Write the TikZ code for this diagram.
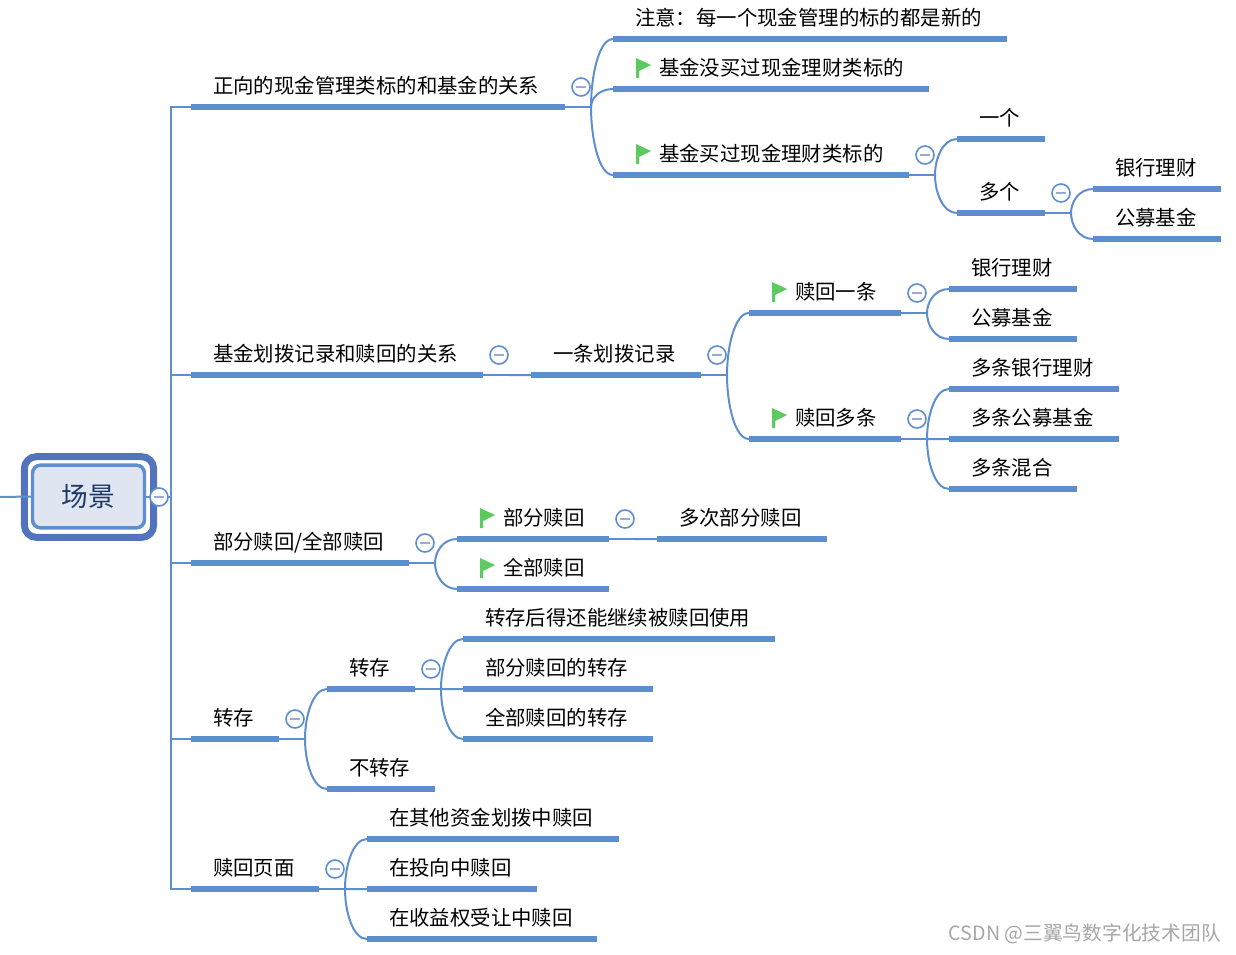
\documentclass[tikz,border=0pt]{standalone}
\usepackage{fontspec}
\setmainfont{Noto Sans CJK SC}
\usetikzlibrary{calc}

\definecolor{linkblue}{HTML}{5F8ECF}
\definecolor{frameblue}{HTML}{5374BC}
\definecolor{rootfill}{HTML}{DFE6F2}
\definecolor{roottext}{HTML}{1F3864}
\definecolor{flaggreen}{HTML}{5BCB5F}

\tikzset{
  link/.style={draw=linkblue,line width=1.5pt},
  underl/.style={draw=linkblue,line width=4.5pt},
  topic/.style={anchor=south west,inner ysep=0pt,inner xsep=16.5pt,outer sep=0pt,
    minimum height=31.5pt,minimum width={#1*0.75pt},text width={(#1-44)*0.75pt},align=left,
    text=black,font=\fontsize{15.3}{18}\selectfont,text height=13pt,text depth=1.6pt,
    append after command={(\tikzlastnode.south west) edge[underl] (\tikzlastnode.south east)}},
  flagged/.style={execute at begin node={\leavevmode\hspace*{18pt}}},
  minus/.style={circle,draw=linkblue,line width=1.2pt,fill=white,minimum size=13.5pt,inner sep=0pt,
    path picture={\draw[draw=frameblue!60,line width=1pt] ([xshift=-3.5pt]path picture bounding box.center) -- ([xshift=3.5pt]path picture bounding box.center);}},
  flagmark/.pic={\fill[flaggreen] (23,-31) -- (38,-24) -- (26,-18) -- (26,-11) -- (23,-11) -- cycle;}
}

% Fork after a parent, then one curve per kid
\newcommand{\branch}[2]{
  \coordinate (#1fork) at ([xshift=19.5pt]#1.south east);
  \draw[link] (#1.south east) -- (#1fork);
  \foreach \kid in {#2}
    \draw[link] (#1fork) .. controls ($(#1fork)!0.45!(#1fork |- \kid.south west)$) and ($(#1fork |- \kid.south west)!0.35!(\kid.south west)$) .. (\kid.south west);
}

\begin{document}
\begin{tikzpicture}[x=0.75pt,y=-0.75pt]
  % Boundary
  \path[use as bounding box] (0,0) rectangle (1236,954);
  % Root
  \node[draw=linkblue,line width=2.6pt,fill=rootfill,rounded corners=6pt,minimum width=84pt,minimum height=47pt,inner sep=0pt,text=roottext,font=\fontsize{20}{24}\selectfont] (root) at (88.5,496.5) {场景};
  \node[draw=frameblue,line width=5.2pt,rounded corners=9pt,minimum width=97pt,minimum height=60.5pt,inner sep=0pt] (rootframe) at (89,497) {};
  \coordinate (rootin) at (0,497);
  % First level
  \node[topic=374] (zheng) at (191,107) {正向的现金管理类标的和基金的关系};
  \node[topic=292] (huabo) at (191,375) {基金划拨记录和赎回的关系};
  \node[topic=218] (bufen) at (191,563) {部分赎回/全部赎回};
  \node[topic=88] (zhuancun) at (191,739) {转存};
  \node[topic=128] (yemian) at (191,889) {赎回页面};
  % Cash management
  \node[topic=394] (zhuyi) at (613,39) {注意：每一个现金管理的标的都是新的};
  \node[topic=316,flagged] (meimai) at (613,89) {基金没买过现金理财类标的};
  \node[topic=296,flagged] (maiguo) at (613,175) {基金买过现金理财类标的};
  \node[topic=88] (yige) at (957,139) {一个};
  \node[topic=88] (duoge) at (957,213) {多个};
  \node[topic=128] (yinhangA) at (1093,189) {银行理财};
  \node[topic=128] (gongmuA) at (1093,239) {公募基金};
  % Transfer records
  \node[topic=170] (yitiao) at (531,375) {一条划拨记录};
  \node[topic=152,flagged] (shuhuiA) at (749,313) {赎回一条};
  \node[topic=152,flagged] (shuhuiB) at (749,439) {赎回多条};
  \node[topic=128] (yinhangB) at (949,289) {银行理财};
  \node[topic=128] (gongmuB) at (949,339) {公募基金};
  \node[topic=170] (duoyh) at (949,389) {多条银行理财};
  \node[topic=170] (duogm) at (949,439) {多条公募基金};
  \node[topic=128] (hunhe) at (949,489) {多条混合};
  % Partial and full
  \node[topic=152,flagged] (bfsh) at (457,539) {部分赎回};
  \node[topic=152,flagged] (qbsh) at (457,589) {全部赎回};
  \node[topic=170] (duoci) at (657,539) {多次部分赎回};
  % Transfer
  \node[topic=88] (zc) at (327,689) {转存};
  \node[topic=108] (bzc) at (327,789) {不转存};
  \node[topic=312] (zhA) at (463,639) {转存后得还能继续被赎回使用};
  \node[topic=190] (zhB) at (463,689) {部分赎回的转存};
  \node[topic=190] (zhC) at (463,739) {全部赎回的转存};
  % Page
  \node[topic=252] (ymA) at (367,839) {在其他资金划拨中赎回};
  \node[topic=170] (ymB) at (367,889) {在投向中赎回};
  \node[topic=230] (ymC) at (367,939) {在收益权受让中赎回};
  % Trunk
  \coordinate (rootfork) at ([xshift=18.7pt]root.east);
  \draw[link] (root.east) -- (rootfork);
  \draw[link] (rootin) -- (root.west);
  \foreach \kid in {zheng,huabo,bufen,zhuancun,yemian}
    \draw[link] (rootfork) |- (\kid.south west);
  % Branches
  \branch{zheng}{zhuyi,meimai,maiguo}
  \branch{maiguo}{yige,duoge}
  \branch{duoge}{yinhangA,gongmuA}
  \branch{huabo}{yitiao}
  \branch{yitiao}{shuhuiA,shuhuiB}
  \branch{shuhuiA}{yinhangB,gongmuB}
  \branch{shuhuiB}{duoyh,duogm,hunhe}
  \branch{bufen}{bfsh,qbsh}
  \branch{bfsh}{duoci}
  \branch{zhuancun}{zc,bzc}
  \branch{zc}{zhA,zhB,zhC}
  \branch{yemian}{ymA,ymB,ymC}
  % Flags
  \foreach \n in {meimai,maiguo,shuhuiA,shuhuiB,bfsh,qbsh}
    \pic at (\n.south west) {flagmark};
  % Collapse marks
  \foreach \n in {zheng,maiguo,duoge,huabo,yitiao,shuhuiA,shuhuiB,bufen,bfsh,zhuancun,zc,yemian}
    \node[minus] (\n minus) at ([shift={(16,-20)}]\n.south east) {};
  \node[minus] (rootminus) at (159,497) {};
  % Watermark
  \node[anchor=east,inner sep=0pt,text=black!35,font=\fontsize{14.8}{18}\selectfont] (mark) at (1221,934) {CSDN @三翼鸟数字化技术团队};
\end{tikzpicture}
\end{document}
